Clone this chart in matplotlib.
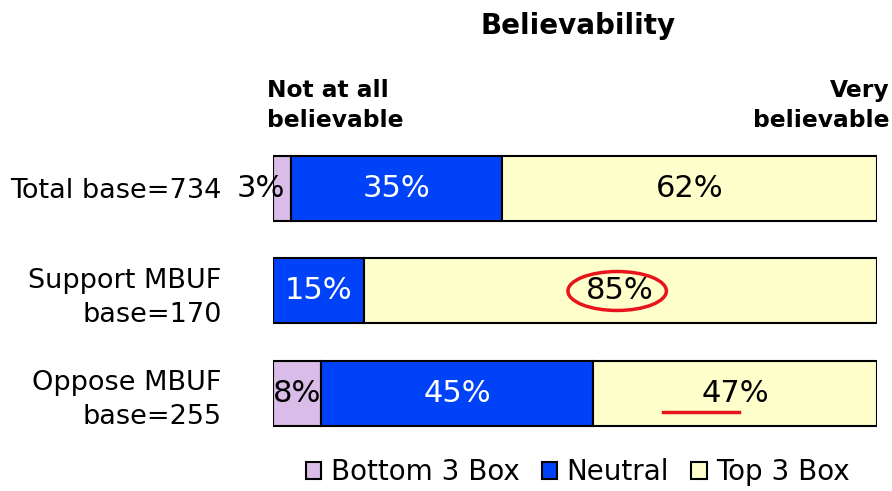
import matplotlib.pyplot as plt
from matplotlib.patches import Ellipse
import numpy as np

plt.rcParams['font.family'] = ['DejaVu Sans']

groups = ["Total base=734", "Support MBUF\nbase=170", "Oppose MBUF\nbase=255"]
series = ["Bottom 3 Box", "Neutral", "Top 3 Box"]
bottom3 = [3, 0, 8]
neutral = [35, 15, 45]
top3 = [62, 85, 47]
colors = ["#D9BCE8", "#0042F8", "#FFFFCC"]
text_colors = ["black", "white", "black"]

fig = plt.figure(figsize=(8.92, 4.91), dpi=100)
ax = fig.add_axes([0.306, 0.0942, 0.677, 0.6263])

y = np.arange(len(groups))
left = np.zeros(len(groups))
for name, vals, col, tc in zip(series, [bottom3, neutral, top3], colors, text_colors):
    vals = np.array(vals) / 100.0
    ax.barh(y, vals, left=left, height=0.634, color=col, edgecolor="black",
            linewidth=1.5, label=name)
    for i, v in enumerate(vals):
        if v <= 0:
            continue
        if v < 0.05:
            # too small, label hangs off the left of the segment
            ax.text(left[i] + v - 0.01, y[i], "%d%%" % round(v * 100), ha="right",
                    va="center", fontsize=22, color=tc)
        else:
            ax.text(left[i] + v / 2, y[i], "%d%%" % round(v * 100), ha="center",
                    va="center", fontsize=22, color=tc)
    left = left + vals

# highlight marks
ax.add_patch(Ellipse((0.57, 1.0), 0.163, 0.38, fill=False, edgecolor="#E8141B", linewidth=2.5))
ax.plot([0.646, 0.772], [2.18, 2.18], color="#E8141B", linewidth=2.5)

ax.set_xlim(0, 1)
ax.set_ylim(2.5, -0.5)
ax.set_yticks(y)
ax.set_yticklabels(groups, fontsize=19.5, linespacing=1.4)
ax.tick_params(axis="y", length=0, pad=37)
ax.set_xticks([])
for s in ax.spines.values():
    s.set_visible(False)

fig.text(0.648, 0.948, "Believability", ha="center", va="center", fontsize=20, fontweight="bold")
fig.text(0.299, 0.785, "Not at all\nbelievable", ha="left", va="center", fontsize=16.8,
         fontweight="bold", linespacing=1.35)
fig.text(0.997, 0.785, "Very\nbelievable", ha="right", va="center", fontsize=16.8,
         fontweight="bold", linespacing=1.35)

ax.legend(loc="center", bbox_to_anchor=(0.505, -0.09), ncol=3, frameon=False,
          fontsize=20, handlelength=0.55, handleheight=0.55, handletextpad=0.35,
          columnspacing=0.8, borderaxespad=0)

fig.savefig("out.png", dpi=100)
